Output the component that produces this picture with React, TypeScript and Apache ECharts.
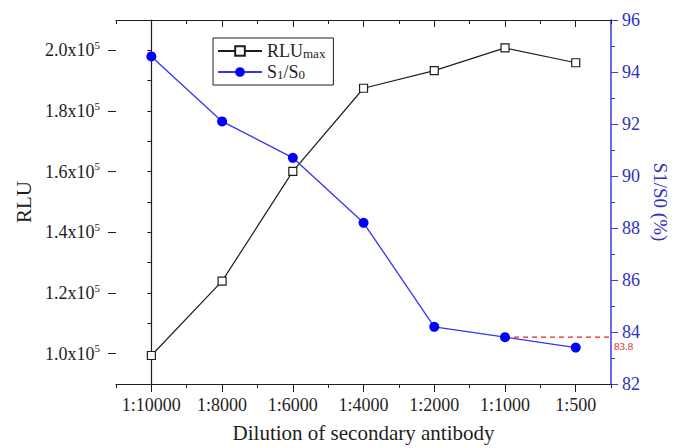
import React, { useEffect, useRef } from "react";
import * as echarts from "echarts";

// Dilution series of the secondary antibody
const dilutions = ["1:10000", "1:8000", "1:6000", "1:4000", "1:2000", "1:1000", "1:500"];
// Maximum relative light units at each dilution
const rluMax = [99400, 123900, 160100, 187500, 193300, 200800, 195900];
// Signal ratio S1/S0 (%) at each dilution
const s1s0 = [94.6, 92.1, 90.7, 88.2, 84.2, 83.8, 83.4];
// Reference level marked from the 1:1000 point
const refLevel = 83.8;
const refStartIndex = 5;
// Left axis tick values (every 1e4; labels on every 2e4)
const rluTicks = [90000, 100000, 110000, 120000, 130000, 140000, 150000, 160000, 170000, 180000, 190000, 200000, 210000];

const FONT = "Liberation Serif";
const INK = "#1e1e1e";
const BLUE_AXIS = "#3a3ae6";
const BLUE_TEXT = "#2f2fc4";
const BLUE_LINE = "#3535f0";
const BLUE_DOT = "#0000ff";

export default function App() {
  const ref = useRef<HTMLDivElement>(null);

  useEffect(() => {
    if (!ref.current) return;
    document.body.style.margin = "0";
    const chart = echarts.init(ref.current, undefined, { renderer: "svg" });

    const labelFmt = (v: number) => {
      if (v % 20000 !== 0) return "";
      const mant = (v / 100000).toFixed(1);
      return `{a|${mant}x10}{b|5}`;
    };

    chart.setOption({
      animation: false,
      backgroundColor: "#ffffff",
      textStyle: { fontFamily: FONT },
      grid: { left: 116, right: 59, top: 20, bottom: 60, containLabel: false },
      legend: {
        orient: "vertical",
        left: 213,
        top: 38,
        padding: [4, 8, 4, 4],
        itemGap: 3,
        itemWidth: 44,
        itemHeight: 12,
        borderColor: INK,
        borderWidth: 1,
        data: ["RLUmax", "S1/S0"],
        formatter: (n: string) =>
          n === "RLUmax" ? "{m|RLU}{s|max}" : "{m|S}{s|1}{m|/S}{s|0}",
        textStyle: {
          fontFamily: FONT,
          color: INK,
          rich: {
            m: { fontFamily: FONT, fontSize: 18, color: INK, lineHeight: 18 },
            s: { fontFamily: FONT, fontSize: 13, color: INK, lineHeight: 13, verticalAlign: "bottom" },
          },
        },
      },
      xAxis: [
        {
          type: "category",
          data: dilutions,
          position: "bottom",
          boundaryGap: true,
          name: "Dilution of secondary antibody",
          nameLocation: "middle",
          nameGap: 38,
          nameTextStyle: { fontFamily: FONT, fontSize: 21, color: INK },
          axisLine: { show: true, lineStyle: { color: INK, width: 1.2 } },
          axisTick: { show: true, alignWithLabel: true, interval: 0, length: 8, lineStyle: { color: INK } },
          axisLabel: { fontFamily: FONT, fontSize: 18, color: INK, margin: 12, interval: 0, hideOverlap: false },
          splitLine: { show: false },
        },
        {
          type: "category",
          data: dilutions,
          position: "bottom",
          boundaryGap: true,
          axisLine: { show: false },
          axisTick: { show: true, interval: 0, length: 4, lineStyle: { color: INK } },
          axisLabel: { show: false },
          splitLine: { show: false },
        },
        {
          type: "category",
          data: dilutions,
          position: "top",
          boundaryGap: true,
          axisLine: { show: true, lineStyle: { color: INK, width: 1.2 } },
          axisTick: { show: true, inside: true, alignWithLabel: true, interval: 0, length: 7, lineStyle: { color: INK } },
          axisLabel: { show: false },
          splitLine: { show: false },
        },
        {
          type: "category",
          data: dilutions,
          position: "top",
          boundaryGap: true,
          axisLine: { show: false },
          axisTick: { show: true, inside: true, interval: 0, length: 4, lineStyle: { color: INK } },
          axisLabel: { show: false },
          splitLine: { show: false },
        },
        {
          // continuous companion of the category axis, used for the reference line
          type: "value",
          show: false,
          min: -0.5,
          max: dilutions.length - 0.5,
        },
      ],
      yAxis: [
        {
          type: "value",
          position: "left",
          min: 90000,
          max: 210000,
          interval: 10000,
          name: "RLU",
          nameLocation: "middle",
          nameGap: 80,
          nameTextStyle: { fontFamily: FONT, fontSize: 21, color: INK },
          axisLine: { show: true, lineStyle: { color: INK, width: 1.2 } },
          axisTick: { show: true, length: 4, lineStyle: { color: INK } },
          axisLabel: {
            formatter: labelFmt,
            margin: 16,
            rich: {
              a: { fontFamily: FONT, fontSize: 18, color: INK, lineHeight: 22 },
              b: { fontFamily: FONT, fontSize: 11, color: INK, lineHeight: 11, verticalAlign: "top" },
            },
          },
          splitLine: { show: false },
        },
        {
          // longer ticks at the labelled values
          type: "category",
          position: "left",
          data: rluTicks.map(String),
          boundaryGap: false,
          axisLine: { show: false },
          axisTick: {
            show: true,
            length: 8,
            interval: (i: number) => i % 2 === 1,
            lineStyle: { color: INK },
          },
          axisLabel: { show: false },
          splitLine: { show: false },
        },
        {
          type: "value",
          position: "right",
          min: 82,
          max: 96,
          interval: 2,
          name: "S1/S0 (%)",
          nameLocation: "middle",
          nameRotate: -90,
          nameGap: 39,
          nameTextStyle: { fontFamily: FONT, fontSize: 19, color: BLUE_TEXT },
          axisLine: { show: true, lineStyle: { color: BLUE_AXIS, width: 1.5 } },
          axisTick: { show: true, length: 7, lineStyle: { color: BLUE_AXIS } },
          minorTick: { show: true, splitNumber: 2, length: 4, lineStyle: { color: BLUE_AXIS } },
          axisLabel: { fontFamily: FONT, fontSize: 18, lineHeight: 16, color: BLUE_TEXT, margin: 11 },
          splitLine: { show: false },
          minorSplitLine: { show: false },
        },
      ],
      series: [
        {
          name: "RLUmax",
          type: "line",
          xAxisIndex: 0,
          yAxisIndex: 0,
          data: rluMax,
          symbol: "rect",
          symbolSize: 8,
          lineStyle: { color: INK, width: 1.2 },
          itemStyle: { color: "#ffffff", borderColor: INK, borderWidth: 1.2 },
          z: 3,
        },
        {
          name: "S1/S0",
          type: "line",
          xAxisIndex: 0,
          yAxisIndex: 2,
          data: s1s0,
          symbol: "circle",
          symbolSize: 10,
          lineStyle: { color: BLUE_LINE, width: 1.3 },
          itemStyle: { color: BLUE_DOT, borderWidth: 0 },
          z: 4,
        },
        {
          name: "ref",
          type: "line",
          xAxisIndex: 4,
          yAxisIndex: 2,
          data: [
            [refStartIndex, refLevel],
            [dilutions.length - 0.5, refLevel],
          ],
          symbol: "none",
          clip: false,
          lineStyle: { color: "#ee2222", width: 1.2, type: [5, 4] },
          endLabel: {
            show: true,
            formatter: String(refLevel),
            color: "#e02020",
            fontFamily: FONT,
            fontSize: 11,
            lineHeight: 11,
            distance: 3,
            offset: [0, 9],
          },
          silent: true,
          z: 2,
        },
      ],
    });

    return () => chart.dispose();
  }, []);

  return (
    <div
      ref={ref}
      style={{ position: "absolute", left: 0, top: 0, width: 678, height: 448 }}
    />
  );
}
